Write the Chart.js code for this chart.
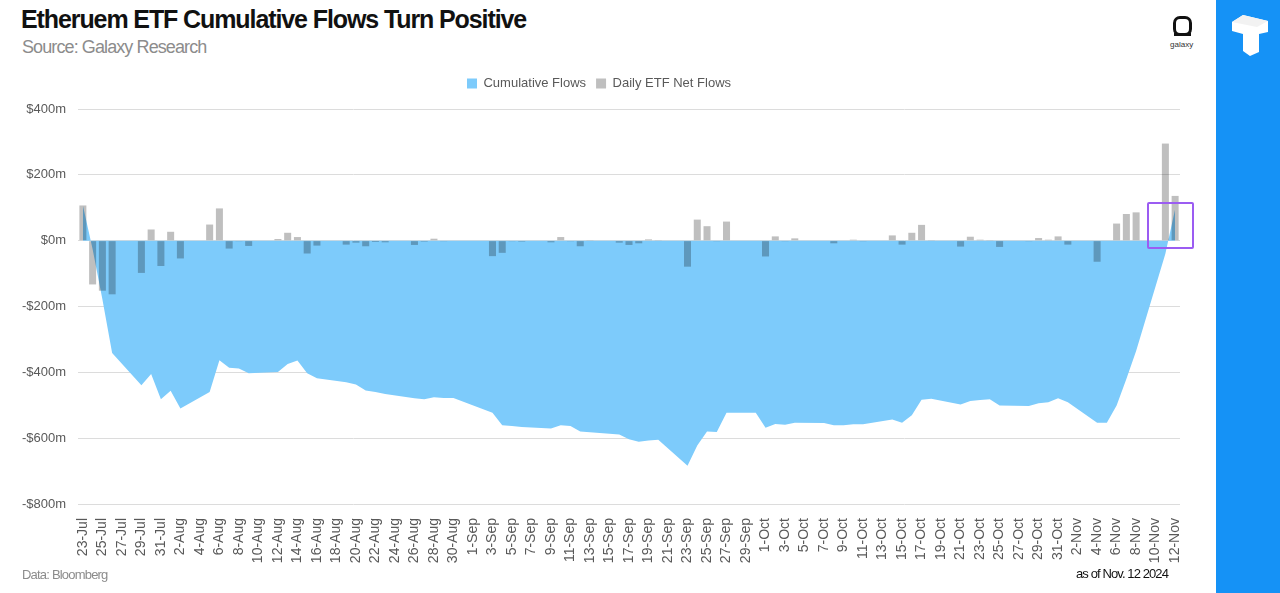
<!DOCTYPE html>
<html lang="en">
  <head>
    <meta charset="UTF-8" />
    <title>Etheruem ETF Cumulative Flows</title>
    <script src="https://cdn.jsdelivr.net/npm/chart.js"></script>
    <style>
      body {
        margin: 0;
        width: 1280px;
        height: 593px;
        background: #fff;
        font-family: "Liberation Sans", Arial, sans-serif;
        position: relative;
        overflow: hidden;
      }
      .title {
        position: absolute;
        left: 21px;
        top: 5px;
        font-size: 25px;
        font-weight: bold;
        letter-spacing: -1.1px;
        color: #111;
      }
      .subtitle {
        position: absolute;
        left: 22px;
        top: 37px;
        font-size: 18px;
        letter-spacing: -0.9px;
        color: #8c8c8c;
      }
      .chart-box {
        position: absolute;
        left: 0;
        top: 67px;
        width: 1212px;
        height: 507px;
      }
      .highlight {
        position: absolute;
        left: 1147px;
        top: 202px;
        width: 43px;
        height: 43px;
        border: 2.5px solid #9b5cf2;
        border-radius: 2px;
      }
      .foot-left {
        position: absolute;
        left: 22px;
        top: 567px;
        font-size: 13px;
        letter-spacing: -0.8px;
        color: #8c8c8c;
      }
      .foot-right {
        position: absolute;
        right: 112px;
        top: 566px;
        font-size: 13px;
        letter-spacing: -0.9px;
        color: #111;
      }
      .strip {
        position: absolute;
        left: 1216px;
        top: 0;
        width: 64px;
        height: 593px;
        background: #1592f6;
      }
      .galaxy-ring {
        position: absolute;
        left: 1173px;
        top: 16px;
        width: 13px;
        height: 14px;
        border: 3px solid #111;
        border-radius: 7px;
      }
      .galaxy-bar {
        position: absolute;
        left: 1174px;
        top: 33px;
        width: 17px;
        height: 3px;
        background: #111;
      }
      .galaxy-text {
        position: absolute;
        left: 1170px;
        top: 40px;
        font-size: 8px;
        color: #333;
      }
    </style>
  </head>
  <body>
    <div class="title">Etheruem ETF Cumulative Flows Turn Positive</div>
    <div class="subtitle">Source: Galaxy Research</div>

    <div class="galaxy-ring"></div>
    <div class="galaxy-bar"></div>
    <div class="galaxy-text">galaxy</div>

    <div class="strip">
      <svg width="64" height="70" viewBox="0 0 64 70">
        <polygon points="16,22 27,15 52,21 52,32 43,34 43,52 34,56 27,51 27,34 16,31" fill="#fff" />
        <polygon points="16,22 27,15 52,21 41,27" fill="#f2f2f2" />
      </svg>
    </div>

    <div class="chart-box">
      <canvas id="flowsChart"></canvas>
    </div>

    <!-- purple box round the turn to positive -->
    <div class="highlight"></div>

    <div class="foot-left">Data: Bloomberg</div>
    <div class="foot-right">as of Nov. 12 2024</div>

    <script>
      // one entry per calendar day, 23-Jul to 12-Nov 2024
      const days = [
        "23-Jul", "24-Jul", "25-Jul", "26-Jul", "27-Jul", "28-Jul", "29-Jul", "30-Jul", "31-Jul",
        "1-Aug", "2-Aug", "3-Aug", "4-Aug", "5-Aug", "6-Aug", "7-Aug", "8-Aug", "9-Aug", "10-Aug",
        "11-Aug", "12-Aug", "13-Aug", "14-Aug", "15-Aug", "16-Aug", "17-Aug", "18-Aug", "19-Aug",
        "20-Aug", "21-Aug", "22-Aug", "23-Aug", "24-Aug", "25-Aug", "26-Aug", "27-Aug", "28-Aug",
        "29-Aug", "30-Aug", "31-Aug",
        "1-Sep", "2-Sep", "3-Sep", "4-Sep", "5-Sep", "6-Sep", "7-Sep", "8-Sep", "9-Sep", "10-Sep",
        "11-Sep", "12-Sep", "13-Sep", "14-Sep", "15-Sep", "16-Sep", "17-Sep", "18-Sep", "19-Sep",
        "20-Sep", "21-Sep", "22-Sep", "23-Sep", "24-Sep", "25-Sep", "26-Sep", "27-Sep", "28-Sep",
        "29-Sep", "30-Sep",
        "1-Oct", "2-Oct", "3-Oct", "4-Oct", "5-Oct", "6-Oct", "7-Oct", "8-Oct", "9-Oct", "10-Oct",
        "11-Oct", "12-Oct", "13-Oct", "14-Oct", "15-Oct", "16-Oct", "17-Oct", "18-Oct", "19-Oct",
        "20-Oct", "21-Oct", "22-Oct", "23-Oct", "24-Oct", "25-Oct", "26-Oct", "27-Oct", "28-Oct",
        "29-Oct", "30-Oct", "31-Oct",
        "1-Nov", "2-Nov", "3-Nov", "4-Nov", "5-Nov", "6-Nov", "7-Nov", "8-Nov", "9-Nov", "10-Nov",
        "11-Nov", "12-Nov",
      ];

      // daily net flows ($m), null = no trading
      const dailyFlows = [
        107, -133, -152, -163, null, null, -98, 34, -77,
        27, -54, null, null, 49, 98, -24, -2, -16, null,
        null, 5, 24, 11, -39, -15, null, null, -12,
        -6, -17, -4, -5, null, null, -13, -3, 6,
        -2, 0, null,
        null, null, -47, -37, -1, -3, null, null, -5, 11,
        -1, -17, 1, null, null, -6, -13, -8, 4,
        2, null, null, -79, 64, 44, -1, 58, null,
        null, 0,
        -48, 13, -2, 7, null, null, 0, -8, 0, 3,
        -1, null, null, 16, -12, 24, 48, 2, null,
        null, -18, 12, 3, 2, -19, null, null, -1,
        8, 3, 13,
        -12, null, null, -64, 0, 52, 81, 86, null, null,
        295, 136,
      ];

      // cumulative flows ($m)
      const cumulativeFlows = [
        107, -26, -178, -341, null, null, -439, -405, -482,
        -456, -510, null, null, -460, -363, -386, -388, -403, null,
        null, -399, -375, -364, -403, -418, null, null, -430,
        -437, -455, -460, -466, null, null, -479, -482, -476,
        -478, -478, null,
        null, null, -523, -561, -563, -566, null, null, -571, -561,
        -563, -580, -582, null, null, -589, -603, -611, -607,
        -605, null, null, -684, -622, -580, -581, -523, null,
        null, -523,
        -568, -557, -559, -553, null, null, -554, -561, -561, -558,
        -558, null, null, -543, -553, -530, -483, -480, null,
        null, -498, -487, -484, -482, -501, null, null, -502,
        -494, -491, -479,
        -491, null, null, -553, -553, -501, -420, -335, null, null,
        -40, 96,
      ];

      const yTicks = [-800, -600, -400, -200, 0, 200, 400];

      // bars are multiplied onto the area, so overlaps turn steel blue
      const multiplyBars = {
        id: "multiplyBars",
        beforeDatasetDraw(chart, args) {
          if (args.index === 1) {
            chart.ctx.save();
            chart.ctx.globalCompositeOperation = "multiply";
          }
        },
        afterDatasetDraw(chart, args) {
          if (args.index === 1) chart.ctx.restore();
        },
      };

      // extra room under the legend
      const legendGap = {
        id: "legendGap",
        beforeInit(chart) {
          const fit = chart.legend.fit;
          chart.legend.fit = function () {
            fit.call(this);
            this.height += 9;
          };
        },
      };

      const tickFont = { family: "Liberation Sans, Arial, sans-serif", size: 13 };

      const ctx = document.getElementById("flowsChart").getContext("2d");
      new Chart(ctx, {
        type: "bar",
        data: {
          labels: days,
          datasets: [
            {
              type: "line",
              label: "Cumulative Flows",
              data: cumulativeFlows,
              backgroundColor: "#7dcbfb",
              borderColor: "#7dcbfb",
              borderWidth: 0,
              pointRadius: 0,
              fill: "origin",
              spanGaps: true,
              tension: 0,
              order: 2,
            },
            {
              label: "Daily ETF Net Flows",
              data: dailyFlows,
              backgroundColor: "#bfbfbf",
              borderWidth: 0,
              barPercentage: 0.72,
              categoryPercentage: 1,
              order: 1,
            },
          ],
        },
        options: {
          responsive: true,
          maintainAspectRatio: false,
          animation: false,
          layout: { padding: { left: 18, right: 32, top: 0, bottom: 0 } },
          plugins: {
            legend: {
              position: "top",
              labels: {
                boxWidth: 10,
                boxHeight: 10,
                padding: 10,
                color: "#595959",
                font: tickFont,
                sort: (a, b) => a.datasetIndex - b.datasetIndex,
              },
            },
            tooltip: { enabled: false },
          },
          scales: {
            x: {
              grid: { display: false },
              border: { display: false },
              ticks: {
                autoSkip: false,
                minRotation: 90,
                maxRotation: 90,
                padding: 6,
                color: "#595959",
                font: { family: "Liberation Sans, Arial, sans-serif", size: 14 },
                callback: (v, i) => (i % 2 === 0 ? days[i] : ""),
              },
              afterFit: (scale) => {
                scale.height = 70;
              },
            },
            y: {
              min: -800,
              max: 400,
              afterBuildTicks: (scale) => {
                scale.ticks = yTicks.map((v) => ({ value: v }));
              },
              grid: { color: "#dcdcdc", lineWidth: 1, drawTicks: false },
              border: { display: false },
              ticks: {
                padding: 12,
                color: "#595959",
                font: tickFont,
                callback: (v) => (v < 0 ? "-$" + Math.abs(v) + "m" : "$" + v + "m"),
              },
              afterFit: (scale) => {
                scale.width = 60;
              },
            },
          },
        },
        plugins: [multiplyBars, legendGap],
      });
    </script>
  </body>
</html>
